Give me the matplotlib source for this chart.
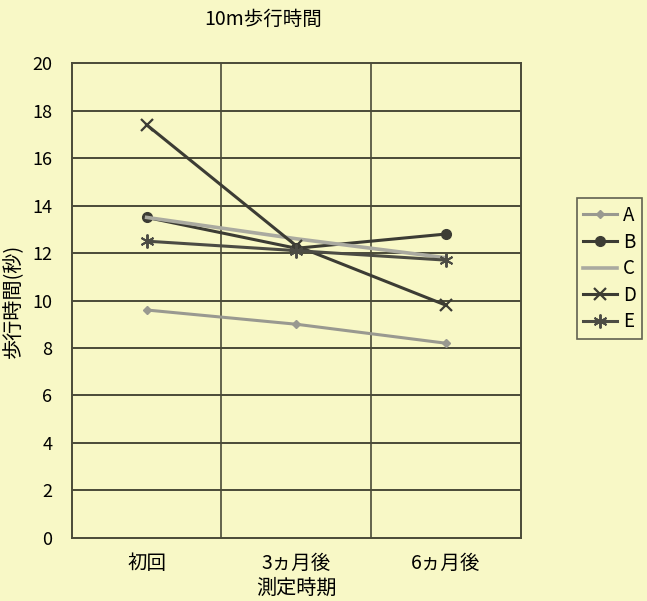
import matplotlib.pyplot as plt

plt.rcParams['font.family'] = ['Noto Sans CJK JP', 'DejaVu Sans']

periods = ['初回', '3ヵ月後', '6ヵ月後']
series_names = ['A', 'B', 'C', 'D', 'E']
a_vals = [9.6, 9.0, 8.2]
b_vals = [13.5, 12.2, 12.8]
c_vals = [13.5, 12.6, 11.8]
d_vals = [17.4, 12.3, 9.8]
e_vals = [12.5, 12.1, 11.7]

bg = '#f8f8c6'
grid_c = '#4a4a38'

fig = plt.figure(figsize=(6.47, 6.01), dpi=100, facecolor=bg)
ax = fig.add_axes([0.111, 0.105, 0.694, 0.79])
ax.set_facecolor(bg)

x = list(range(len(periods)))
styles = [
    dict(color='#999990', marker='D', markersize=4, lw=2.2),
    dict(color='#3c3c34', marker='o', markersize=7, lw=2.2),
    dict(color='#aaaaa0', marker=None, lw=2.6),
    dict(color='#3c3c34', marker='x', markersize=9, mew=1.6, lw=2.2),
    dict(color='#4c4c44', marker=(6, 2, 0), markersize=10, mew=1.4, lw=2.2),
]
data = [a_vals, b_vals, c_vals, d_vals, e_vals]
handles = []
for name, vals, st in zip(series_names, data, styles):
    ln, = ax.plot(x, vals, label=name, zorder=3, **st)
    handles.append(ln)

ax.set_xlim(-0.5, 2.5)
ax.set_ylim(0, 20)
ax.set_yticks(range(0, 21, 2))
ax.set_xticks(x)
ax.set_xticklabels(periods, fontsize=14)
ax.tick_params(axis='y', labelsize=13, length=0, pad=14)
ax.tick_params(axis='x', length=0, pad=11)
for yv in range(2, 20, 2):
    ax.axhline(yv, color=grid_c, lw=1.4, zorder=1)
for xv in [0.5, 1.5]:
    ax.axvline(xv, color=grid_c, lw=1.2, zorder=1)
for sp in ax.spines.values():
    sp.set_color(grid_c)
    sp.set_linewidth(1.4)

ax.set_xlabel('測定時期', fontsize=14.5, labelpad=3)
ax.set_ylabel('歩行時間(秒)', fontsize=14.5, labelpad=6)
fig.text(0.407, 0.968, '10m歩行時間', ha='center', va='center', fontsize=14)

leg = fig.legend(handles=handles, loc='center left',
                 bbox_to_anchor=(0.877, 0.553), fontsize=13.5,
                 frameon=True, fancybox=False, handlelength=1.8,
                 handletextpad=0.3, borderpad=0.35, labelspacing=0.3)
leg.get_frame().set_facecolor(bg)
leg.get_frame().set_edgecolor('#3c3c34')
leg.get_frame().set_linewidth(1.2)

fig.savefig('out.png', dpi=100, facecolor=bg)
